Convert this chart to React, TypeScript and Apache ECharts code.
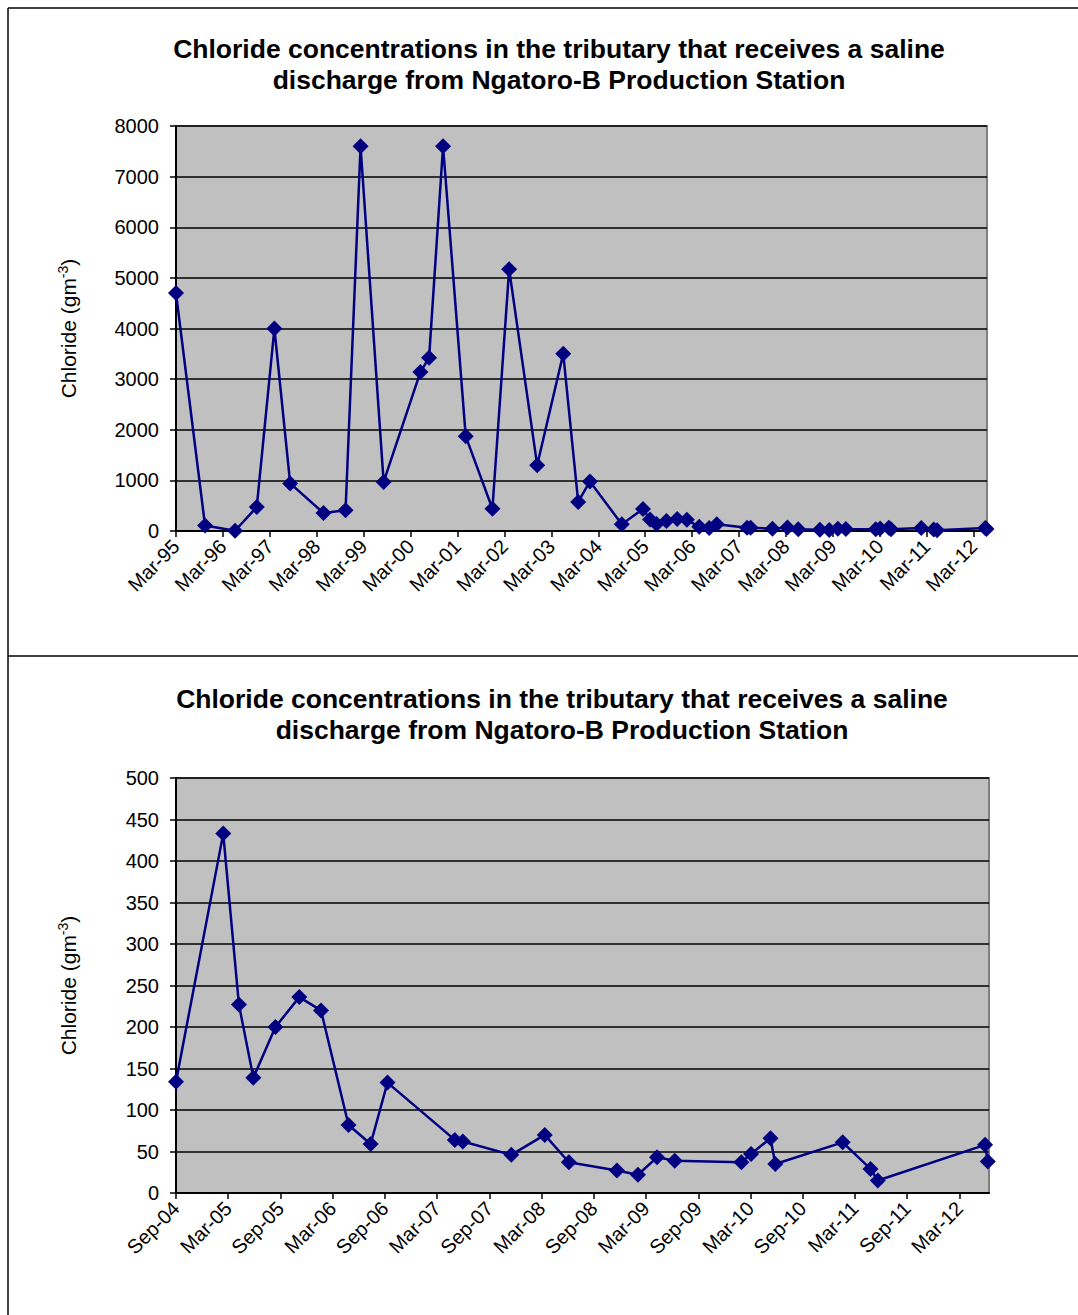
import React, { useEffect, useRef } from "react";
import * as echarts from "echarts";

// ---- Data ----
const titleText = "Chloride concentrations in the tributary that receives a saline\ndischarge from Ngatoro-B Production Station";

const earlyDates = [
  "1995-03-01", "1995-10-14", "1996-06-04", "1996-11-21", "1997-04-06",
  "1997-08-07", "1998-04-23", "1998-10-12", "1999-02-07", "1999-08-04",
  "2000-05-16", "2000-07-23", "2000-11-10", "2001-05-04", "2001-11-29",
  "2002-04-07", "2002-11-12", "2003-06-02", "2003-09-27", "2003-12-27",
];
const earlyValues = [
  4700, 110, 5, 475, 4000,
  940, 355, 410, 7600, 970,
  3140, 3420, 7600, 1870, 440,
  5170, 1300, 3500, 575, 980,
];

const recentDates = [
  "2004-09-01", "2005-02-14", "2005-04-08", "2005-05-28", "2005-08-14",
  "2005-11-06", "2006-01-21", "2006-04-26", "2006-07-12", "2006-09-10",
  "2007-05-02", "2007-05-30", "2007-11-17", "2008-03-12", "2008-06-05",
  "2008-11-21", "2009-02-03", "2009-04-09", "2009-06-10", "2010-01-30",
  "2010-03-03", "2010-05-10", "2010-05-27", "2011-01-19", "2011-04-25",
  "2011-05-20", "2012-05-30", "2012-06-09",
];
const recentValues = [
  134, 433, 227, 139, 200,
  236, 220, 82, 59, 133,
  64, 62, 46, 70, 37,
  27, 22, 43, 39, 37,
  47, 66, 35, 61, 29,
  15, 58, 38,
];

const topTickLabels = [
  "Mar-95", "Mar-96", "Mar-97", "Mar-98", "Mar-99", "Mar-00", "Mar-01", "Mar-02", "Mar-03",
  "Mar-04", "Mar-05", "Mar-06", "Mar-07", "Mar-08", "Mar-09", "Mar-10", "Mar-11", "Mar-12",
];
const bottomTickLabels = [
  "Sep-04", "Mar-05", "Sep-05", "Mar-06", "Sep-06", "Mar-07", "Sep-07", "Mar-08",
  "Sep-08", "Mar-09", "Sep-09", "Mar-10", "Sep-10", "Mar-11", "Sep-11", "Mar-12",
];

// months elapsed since a base year/month (base day = 1)
function monthsSince(date: string, baseY: number, baseM: number): number {
  const [y, m, d] = date.split("-").map(Number);
  return (y - baseY) * 12 + (m - baseM) + (d - 1) / 30.5;
}

const FONT = 'Arial, "Liberation Sans", sans-serif';
const NAVY = "#000080";

function buildGrid(
  idx: number,
  top: number,
  height: number,
  xMax: number,
  xInterval: number,
  labels: string[],
  yMax: number,
  yInterval: number
) {
  return {
    grid: { left: 176, top, width: idx === 0 ? 811 : 813, height, show: true, backgroundColor: "#C0C0C0", borderColor: "#808080", borderWidth: 2 },
    xAxis: {
      type: "value",
      gridIndex: idx,
      min: 0,
      max: xMax,
      interval: xInterval,
      axisLine: { show: true, onZero: false, lineStyle: { color: "#000", width: 2 } },
      axisTick: { show: true, length: 6, lineStyle: { color: "#000", width: 1.5 } },
      splitLine: { show: false },
      axisLabel: {
        rotate: 45,
        fontSize: 20,
        color: "#000",
        fontFamily: FONT,
        margin: 12,
        showMaxLabel: false,
        formatter: (v: number) => {
          const i = Math.round(v / xInterval);
          return Math.abs(v - i * xInterval) < 1e-6 && labels[i] !== undefined ? labels[i] : "";
        },
      },
    },
    yAxis: {
      type: "value",
      gridIndex: idx,
      min: 0,
      max: yMax,
      interval: yInterval,
      name: "{a|Chloride (gm}{b|-3}{a|)}",
      nameLocation: "middle",
      nameGap: 96,
      nameRotate: 90,
      nameTextStyle: {
        rich: {
          a: { fontSize: 21, fontFamily: FONT, color: "#000", lineHeight: 24 },
          b: { fontSize: 14, fontFamily: FONT, color: "#000", verticalAlign: "top", lineHeight: 24 },
        },
      },
      axisLine: { show: true, lineStyle: { color: "#000", width: 2 } },
      axisTick: { show: true, length: 6, lineStyle: { color: "#000", width: 1.5 } },
      splitLine: { show: true, lineStyle: { color: "#000", width: 1.5 } },
      axisLabel: { fontSize: 20, color: "#000", fontFamily: FONT, margin: 17, formatter: (v: number) => String(v) },
    },
  };
}

export default function App() {
  const ref = useRef<HTMLDivElement>(null);

  useEffect(() => {
    document.body.style.margin = "0";
    document.body.style.overflow = "hidden";
    if (!ref.current) return;
    const chart = echarts.init(ref.current, null, { renderer: "svg" });

    const allDates = earlyDates.concat(recentDates);
    const allValues = earlyValues.concat(recentValues);
    const topData = allDates.map((d, i) => [monthsSince(d, 1995, 3), allValues[i]]);
    const bottomData = recentDates.map((d, i) => [monthsSince(d, 2004, 9), recentValues[i]]);

    const g0 = buildGrid(0, 126, 405, 207.4, 12, topTickLabels, 8000, 1000);
    const g1 = buildGrid(1, 778, 415, 93.4, 6, bottomTickLabels, 500, 50);

    const titleStyle = { fontSize: 26.5, fontWeight: "bold" as const, color: "#000", fontFamily: FONT, lineHeight: 31 };

    chart.setOption({
      animation: false,
      backgroundColor: "#fff",
      title: [
        { text: titleText, left: 554, top: 28, textAlign: "center", textStyle: titleStyle },
        { text: titleText, left: 557, top: 678, textAlign: "center", textStyle: titleStyle },
      ],
      grid: [g0.grid, g1.grid],
      xAxis: [g0.xAxis, g1.xAxis],
      yAxis: [g0.yAxis, g1.yAxis],
      series: [
        {
          type: "line",
          xAxisIndex: 0,
          yAxisIndex: 0,
          data: topData,
          symbol: "diamond",
          symbolSize: 16,
          lineStyle: { color: NAVY, width: 2.5 },
          itemStyle: { color: NAVY },
        },
        {
          type: "line",
          xAxisIndex: 1,
          yAxisIndex: 1,
          data: bottomData,
          symbol: "diamond",
          symbolSize: 16,
          lineStyle: { color: NAVY, width: 2.5 },
          itemStyle: { color: NAVY },
        },
      ],
      graphic: [
        { type: "line", shape: { x1: 8, y1: 8, x2: 1078, y2: 8 }, style: { stroke: "#000", lineWidth: 1.5 } },
        { type: "line", shape: { x1: 8, y1: 8, x2: 8, y2: 1315 }, style: { stroke: "#000", lineWidth: 1.5 } },
        { type: "line", shape: { x1: 8, y1: 656, x2: 1078, y2: 656 }, style: { stroke: "#000", lineWidth: 1.5 } },
      ],
    });

    return () => chart.dispose();
  }, []);

  return <div ref={ref} style={{ width: 1078, height: 1315 }} />;
}
